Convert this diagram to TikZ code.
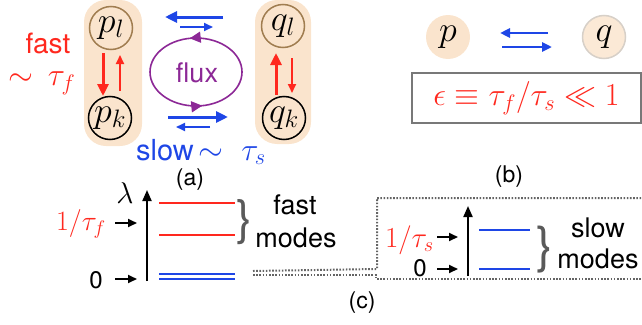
\RequirePackage{fix-cm}
\documentclass[tikz,border=0pt]{standalone}
\usepackage{fontspec}
\newfontfamily\hel{TeX Gyre Heros}
\usetikzlibrary{arrows.meta,calc,decorations.markings,shapes.geometric}
\definecolor{peach}{RGB}{250,228,205}
\definecolor{peachq}{RGB}{251,233,214}
\definecolor{brownc}{RGB}{160,125,80}
\definecolor{redc}{RGB}{255,40,30}
\definecolor{bluec}{RGB}{30,70,230}
\definecolor{purplec}{RGB}{140,40,150}
\definecolor{greyb}{RGB}{90,90,90}
\definecolor{greybox}{RGB}{120,120,120}
\definecolor{greydot}{RGB}{100,100,100}
\definecolor{greyq}{RGB}{215,208,200}
\tikzset{
  capsule/.style={fill=peach, rounded corners=22pt, inner sep=0pt, minimum width=58pt},
  state/.style={circle, draw, line width=1.5pt, inner sep=0pt, minimum size=43pt, font=\fontsize{36}{36}\selectfont},
  redthick/.style={redc, line width=3pt, -{Triangle[length=12pt,width=11pt]}},
  redthin/.style={redc, line width=2pt, -{Triangle[length=9pt,width=8pt]}},
  bluethick/.style={bluec, line width=3pt, -{Triangle[length=12pt,width=11pt]}},
  bluethin/.style={bluec, line width=2pt, -{Triangle[length=9pt,width=8pt]}},
  bluemid/.style={bluec, line width=2.5pt, -{Triangle[length=10pt,width=9pt]}},
  helv/.style={font=\hel\fontsize{#1}{#1}\selectfont, inner sep=0pt},
  mathf/.style={font=\fontsize{#1}{#1}\selectfont, inner sep=0pt},
  blackarr/.style={black, line width=2pt, -{Triangle[length=9pt,width=8pt]}},
  axisarr/.style={black, line width=2pt, -{Triangle[length=11pt,width=9pt]}},
  level/.style={line width=2pt},
  dotline/.style={greydot, line width=2pt, dash pattern=on 1.6pt off 1.6pt},
  fluxarc/.style={purplec, line width=1.6pt, postaction={decorate},
    decoration={markings, mark=at position 0.55 with {\arrow{Triangle[length=11pt,width=11pt]}}}},
}
\begin{document}
\begin{tikzpicture}[x=1pt,y=-1pt]
\useasboundingbox (0,0) rectangle (642,324);
% ---------- (a) ----------
\node[capsule, minimum height=146pt] (capL) at (113,73) {};
\node[capsule, minimum height=144pt, minimum width=56pt] (capR) at (283,72) {};
\node[state, draw=brownc] (pl) at (111,28) {$p_l$};
\node[state, draw=black] (pk) at (110,118) {$p_k$};
\node[state, draw=brownc] (ql) at (283,26) {$q_l$};
\node[state, draw=black] (qk) at (284,118) {$q_k$};
\draw[redthick] ($(pl)+(-8,25)$) -- ($(pk)+(-7,-22)$);
\draw[redthin] ($(pk)+(10,-27)$) -- ($(pl)+(9,27)$);
\draw[redthick] ($(qk)+(-8,-23)$) -- ($(ql)+(-7,27)$);
\draw[redthin] ($(ql)+(9,32)$) -- ($(qk)+(8,-25)$);
\draw[bluethick] (223,17) -- (165,17);
\draw[bluethin] (180,27) -- (213,27);
\draw[bluethick] (168,117) -- (228,117);
\draw[bluethin] (210,127) -- (176,127);
\draw[fluxarc] (242,72) arc[start angle=0, end angle=-180, x radius=46, y radius=34];
\draw[fluxarc] (150,72) arc[start angle=180, end angle=0, x radius=46, y radius=34];
\node[helv=27, text=purplec] (flux) at (197,73) {flux};
\node[helv=28, text=redc] (fast) at (48,43) {fast};
\node[mathf=32, text=redc] (tauf) at (42,83) {$\sim\,\tau_f$};
\node[helv=29, text=bluec] (slow) at (201,152) {slow\,{\fontsize{32}{32}\selectfont$\sim\;\tau_s$}};
\node[helv=23] (la) at (190,180) {(a)};
% ---------- (b) ----------
\node[circle, fill=peach, inner sep=0pt, minimum size=44pt, mathf=36] (p) at (448,37) {$p$};
\node[circle, fill=peachq, draw=greyq, line width=1.5pt, inner sep=0pt, minimum size=43pt, mathf=36] (q) at (604,37) {$q$};
\draw[bluemid] (548,33) -- (500,33);
\draw[bluemid] (502,47) -- (552,47);
\node[draw=greybox, line width=2pt, minimum width=229pt, minimum height=50pt, inner sep=0pt, text=redc, font=\fontsize{32}{32}\selectfont] (eps) at (526.5,98) {$\epsilon\equiv\tau_f/\tau_s\ll 1$};
\node[helv=23] (lb) at (509,177) {(b)};
% ---------- (c) left ----------
\coordinate (axLb) at (147,281);
\coordinate (axLt) at (147,190);
\draw[axisarr] (axLb) -- (axLt);
\node[mathf=30] (lam) at (125,193) {$\lambda$};
\draw[level, redc] (159,203) -- (235,203);
\draw[level, redc] (159,235) -- (235,235);
\draw[line width=1.8pt, bluec] (159,274) -- (235,274);
\draw[line width=1.8pt, bluec] (159,279) -- (235,279);
\node[helv=48, text=greyb] (braceL) at (245,222) {\}};
\node[helv=27] (fastm) at (295,205) {fast};
\node[helv=27] (modesL) at (296,238) {modes};
\node[mathf=28, text=redc, anchor=east] (itf) at (106,224) {$1/\tau_f$};
\coordinate (itfe) at (137,223);
\draw[blackarr] (115,223) -- (itfe);
\node[helv=24] (zeroL) at (96,280) {0};
\coordinate (z1e) at (137,279);
\draw[blackarr] (115,279) -- (z1e);
% ---------- (c) right ----------
\coordinate (axRb) at (468,276);
\coordinate (axRt) at (468,206);
\draw[axisarr] (axRb) -- (axRt);
\draw[level, bluec] (479,230) -- (530,230);
\draw[level, bluec] (479,269) -- (530,269);
\node[mathf=29, text=redc, anchor=east] (its) at (434,240) {$1/\tau_s$};
\draw[blackarr] (437,237) -- (458,237);
\node[helv=24] (zeroR) at (420,268) {0};
\draw[blackarr] (437,269) -- (458,269);
\node[helv=50, text=greyb] (braceR) at (545,250) {\}};
\node[helv=27] (slowm) at (598,228) {slow};
\node[helv=27] (modesR) at (598,259) {modes};
\draw[dotline] (253,271) -- (377,269) -- (377,198) -- (642,198);
\draw[dotline] (253,275) -- (376,275) -- (376,279) -- (642,279);
\node[helv=23] (lc) at (362,303) {(c)};
\end{tikzpicture}
\end{document}
